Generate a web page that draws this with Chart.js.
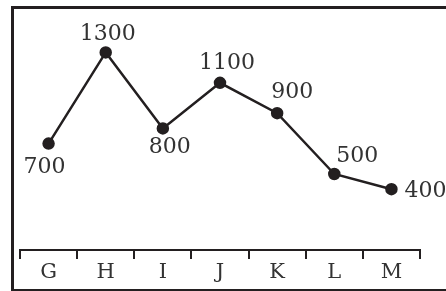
<!DOCTYPE html>
<html>
<head>
<meta charset="utf-8">
<script src="https://cdn.jsdelivr.net/npm/chart.js@4/dist/chart.umd.min.js"></script>
<style>
  html, body { margin: 0; padding: 0; background: #fff; overflow: hidden; }
  #frame {
    position: absolute; left: 11px; top: 6px; width: 500px; height: 280px;
    border: 3px solid #231f20; border-right: none;
  }
  #wrap { position: absolute; left: 0; top: 0; width: 446px; height: 291px; }
</style>
</head>
<body>
<div id="frame"></div>
<div id="wrap"><canvas id="chart" width="446" height="291"></canvas></div>
<script>
// chart data
const categories = ['G', 'H', 'I', 'J', 'K', 'L', 'M']
const values = [700, 1300, 800, 1100, 900, 500, 400]

// where each value label sits relative to its point (px)
const labelDx = [-4, 2, 7, 7, 15, 23, 34]
const labelDy = [24, -18, 19, -20, -21, -18, 2]

const INK = '#231f20'
const TEXT = '#333333'

const valueLabels = {
  id: 'valueLabels',
  afterDatasetsDraw (chart) {
    const ctx = chart.ctx
    const meta = chart.getDatasetMeta(0)
    ctx.save()
    ctx.font = '22px "DejaVu Serif"'
    ctx.fillStyle = TEXT
    ctx.textAlign = 'center'
    ctx.textBaseline = 'middle'
    meta.data.forEach((pt, i) => {
      ctx.fillText(String(values[i]), pt.x + labelDx[i], pt.y + labelDy[i])
    })
    ctx.restore()
  }
}

new Chart(document.getElementById('chart'), {
  type: 'line',
  data: {
    labels: categories,
    datasets: [{
      data: values,
      borderColor: INK,
      borderWidth: 2.5,
      pointBackgroundColor: INK,
      pointBorderColor: INK,
      pointRadius: 5,
      tension: 0,
      fill: false
    }]
  },
  options: {
    responsive: false,
    animation: false,
    layout: { padding: { left: 20, right: 26, top: 22, bottom: 0 } },
    plugins: { legend: { display: false }, tooltip: { enabled: false } },
    scales: {
      x: {
        offset: true,
        grid: {
          offset: true,
          drawOnChartArea: false,
          drawTicks: true,
          tickLength: 9,
          color: INK,
          lineWidth: 2
        },
        border: { display: true, color: INK, width: 2 },
        ticks: {
          color: TEXT,
          font: { family: 'DejaVu Serif', size: 21 },
          padding: 1
        },
        afterFit (scale) { scale.height = 41 }
      },
      y: {
        display: false,
        min: 0,
        max: 1500
      }
    }
  },
  plugins: [valueLabels]
})
</script>
</body>
</html>
